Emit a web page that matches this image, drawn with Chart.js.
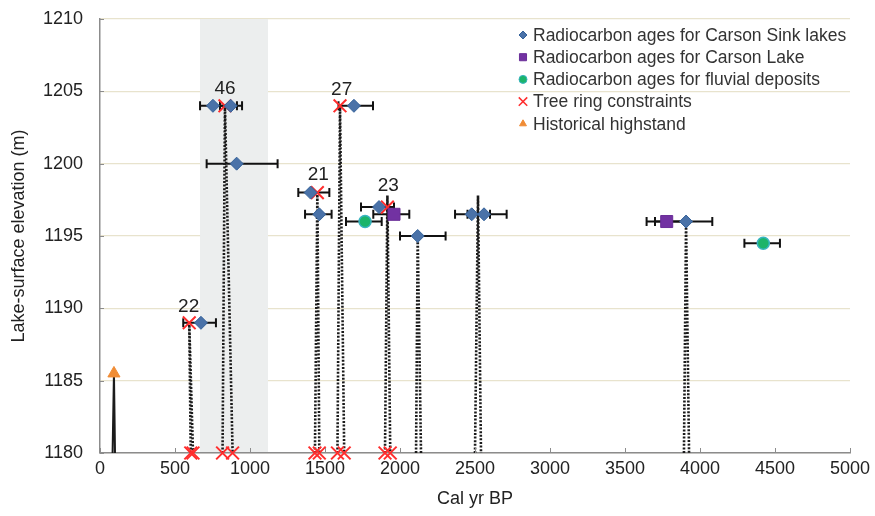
<!DOCTYPE html>
<html>
<head>
<meta charset="utf-8">
<script src="https://cdn.jsdelivr.net/npm/chart.js@4.4.1/dist/chart.umd.min.js"></script>
<style>
  html, body { margin: 0; padding: 0; background: #fff; }
  #wrap { width: 875px; height: 516px; }
</style>
</head>
<body>
<div id="wrap"><canvas id="chart" width="875" height="516"></canvas></div>
<script>
// Radiocarbon ages for Carson Sink lakes (age, elevation, 2-sigma range)
const sinkAge   = [753, 871, 911, 1693, 1404, 1462, 1860, 2118, 2478, 2560, 3907, 673];
const sinkElev  = [1204, 1204, 1200, 1204, 1198, 1196.5, 1197, 1195, 1196.5, 1196.5, 1196, 1189];
const sinkErrLo = [667, 800, 711, 1590, 1322, 1367, 1740, 2000, 2367, 2450, 3700, 555];
const sinkErrHi = [913, 947, 1184, 1820, 1529, 1544, 1960, 2304, 2600, 2711, 4082, 773];

// Radiocarbon ages for Carson Lake
const lakeAge   = [1960, 3778];
const lakeElev  = [1196.5, 1196];
const lakeErrLo = [1822, 3644];
const lakeErrHi = [2062, 3910];

// Radiocarbon ages for fluvial deposits
const fluvAge   = [1767, 4422];
const fluvElev  = [1196, 1194.5];
const fluvErrLo = [1640, 4296];
const fluvErrHi = [1878, 4533];

// Tree ring constraints
const treeAge  = [595, 833, 1449, 1600, 1916, 605, 620, 817, 884, 1433, 1462, 1583, 1628, 1900, 1935];
const treeElev = [1189, 1204, 1198, 1204, 1197, 1180, 1180, 1180, 1180, 1180, 1180, 1180, 1180, 1180, 1180];

// Historical highstand
const histAge  = [93];
const histElev = [1185.5];
const histBaseLo = [84];
const histBaseHi = [100];

// Dotted lake-level constraint lines (apex and the two base ages at 1180 m)
const lineTopAge  = [595, 833, 1449, 1600, 1916, 2118, 2520, 3907];
const lineTopElev = [1189, 1204, 1198, 1204, 1197.8, 1195, 1197.8, 1196];
const lineBaseLo  = [605, 817, 1433, 1583, 1900, 2107, 2500, 3893];
const lineBaseHi  = [620, 884, 1462, 1628, 1935, 2140, 2540, 3927];

// Numbered labels
const eventLabel     = ['22', '46', '21', '27', '23'];
const eventLabelAge  = [591, 833, 1455, 1611, 1922];
const eventLabelElev = [1190.1, 1205.2, 1199.2, 1205.1, 1198.5];

// Shaded interval
const shadeFrom = 667;
const shadeTo = 1120;

// Axis ranges
const yMin = 1180, yMax = 1210, yStep = 5;
const xMin = 0, xMax = 5000, xStep = 500;

const FONT = "'Liberation Sans', Arial, sans-serif";

function pts(xs, ys) {
    return xs.map((x, i) => ({ x: x, y: ys[i] }));
}

const datasets = [];

// constraint lines
lineTopAge.forEach((top, i) => {
    datasets.push({
        type: 'line',
        data: [{ x: lineBaseLo[i], y: yMin }, { x: top, y: lineTopElev[i] }, { x: lineBaseHi[i], y: yMin }],
        borderColor: '#1a1a1a',
        borderWidth: 2.6,
        borderDash: [2, 1.6],
        pointRadius: 0,
        fill: false,
        tension: 0,
        order: 10
    });
});
histAge.forEach((a, i) => {
    datasets.push({
        type: 'line',
        data: [{ x: histBaseLo[i], y: yMin }, { x: a, y: histElev[i] }, { x: histBaseHi[i], y: yMin }],
        borderColor: '#1b1b1b',
        borderWidth: 2,
        pointRadius: 0,
        fill: false,
        tension: 0,
        order: 10
    });
});

const markerSets = [
    { label: 'Radiocarbon ages for Carson Sink lakes', data: pts(sinkAge, sinkElev),
      pointStyle: 'rectRot', pointRadius: 6.5, backgroundColor: '#4a72a8', borderColor: '#35629a', borderWidth: 1 },
    { label: 'Radiocarbon ages for Carson Lake', data: pts(lakeAge, lakeElev),
      pointStyle: 'rect', pointRadius: 8.5, backgroundColor: '#7232a2', borderColor: '#6a2e98', borderWidth: 1 },
    { label: 'Radiocarbon ages for fluvial deposits', data: pts(fluvAge, fluvElev),
      pointStyle: 'circle', pointRadius: 6, backgroundColor: '#1cb46a', borderColor: '#38b4c0', borderWidth: 1.5 },
    { label: 'Tree ring constraints', data: pts(treeAge, treeElev),
      pointStyle: 'crossRot', pointRadius: 9, backgroundColor: '#ff2d2d', borderColor: '#ff2d2d', borderWidth: 2 },
    { label: 'Historical highstand', data: pts(histAge, histElev),
      pointStyle: 'triangle', pointRadius: 7, backgroundColor: '#f08c35', borderColor: '#f08c35', borderWidth: 1 }
];
markerSets.forEach(m => {
    m.type = 'scatter';
    m.order = 1;
    m.clip = false;
    m.isMarker = true;
    datasets.push(m);
});

const errorGroups = [
    { age: sinkAge, elev: sinkElev, lo: sinkErrLo, hi: sinkErrHi },
    { age: lakeAge, elev: lakeElev, lo: lakeErrLo, hi: lakeErrHi },
    { age: fluvAge, elev: fluvElev, lo: fluvErrLo, hi: fluvErrHi }
];

// shaded band + error bars under the markers
const underlayPlugin = {
    id: 'underlay',
    beforeDatasetsDraw(chart) {
        const { ctx, chartArea, scales } = chart;
        const x = scales.x, y = scales.y;
        ctx.save();
        ctx.fillStyle = '#eceeee';
        const x0 = x.getPixelForValue(shadeFrom), x1 = x.getPixelForValue(shadeTo);
        ctx.fillRect(x0, chartArea.top, x1 - x0, chartArea.bottom - chartArea.top - 1);

        ctx.strokeStyle = '#111';
        ctx.lineWidth = 2;
        errorGroups.forEach(g => {
            g.age.forEach((a, i) => {
                const py = y.getPixelForValue(g.elev[i]);
                const pl = x.getPixelForValue(g.lo[i]);
                const ph = x.getPixelForValue(g.hi[i]);
                ctx.beginPath();
                ctx.moveTo(pl, py); ctx.lineTo(ph, py);
                ctx.moveTo(pl, py - 4.5); ctx.lineTo(pl, py + 4.5);
                ctx.moveTo(ph, py - 4.5); ctx.lineTo(ph, py + 4.5);
                ctx.stroke();
            });
        });
        ctx.restore();
    }
};

// inward tick marks, numbered labels and the legend
const overlayPlugin = {
    id: 'overlay',
    afterDraw(chart) {
        const { ctx, chartArea, scales } = chart;
        const x = scales.x, y = scales.y;
        ctx.save();
        ctx.strokeStyle = '#8c8c8c';
        ctx.lineWidth = 1;
        ctx.beginPath();
        x.ticks.forEach(t => {
            const px = Math.round(x.getPixelForValue(t.value)) + 0.5;
            ctx.moveTo(px, chartArea.bottom);
            ctx.lineTo(px, chartArea.bottom - 5);
        });
        y.ticks.forEach(t => {
            const py = Math.round(y.getPixelForValue(t.value)) + 0.5;
            ctx.moveTo(chartArea.left, py);
            ctx.lineTo(chartArea.left + 4, py);
        });
        ctx.stroke();

        ctx.fillStyle = '#222';
        ctx.font = '19px ' + FONT;
        ctx.textAlign = 'center';
        ctx.textBaseline = 'middle';
        eventLabel.forEach((txt, i) => {
            ctx.fillText(txt, x.getPixelForValue(eventLabelAge[i]), y.getPixelForValue(eventLabelElev[i]));
        });

        // legend
        const lx = 523, ly = 35, rowH = 22.2;
        ctx.font = '17.5px ' + FONT;
        ctx.textAlign = 'left';
        chart.data.datasets.filter(d => d.isMarker).forEach((d, i) => {
            const cy = ly + i * rowH;
            ctx.fillStyle = d.backgroundColor;
            ctx.strokeStyle = d.borderColor;
            ctx.lineWidth = d.pointStyle === 'crossRot' ? 1.5 : 1;
            Chart.helpers.drawPoint(ctx, { pointStyle: d.pointStyle, radius: d.pointStyle === 'rect' ? 5 : (d.pointStyle === 'crossRot' ? 6 : 4), rotation: 0, borderWidth: ctx.lineWidth }, lx, cy);
            ctx.fillStyle = '#333';
            ctx.fillText(d.label, lx + 10, cy + 1);
        });
        ctx.restore();
    }
};

new Chart(document.getElementById('chart'), {
    type: 'scatter',
    data: { datasets: datasets },
    options: {
        responsive: false,
        animation: false,
        events: [],
        layout: { padding: { top: 19, right: 25, left: 0, bottom: 0 } },
        plugins: { legend: { display: false }, tooltip: { enabled: false } },
        scales: {
            x: {
                type: 'linear',
                min: xMin, max: xMax,
                ticks: { stepSize: xStep, color: '#222', font: { family: FONT, size: 18 }, padding: -3, maxRotation: 0,
                         callback: v => String(v) },
                grid: { display: false },
                border: { display: true, color: '#8c8c8c', width: 1.5 },
                title: { display: true, text: 'Cal yr BP', color: '#222', font: { family: FONT, size: 18 }, padding: { top: 0, bottom: 6 } },
                afterFit(scale) { scale.height = 63; }
            },
            y: {
                type: 'linear',
                min: yMin, max: yMax,
                ticks: { stepSize: yStep, color: '#222', font: { family: FONT, size: 18 }, padding: 17,
                         callback: v => String(v) },
                grid: { color: '#e8e3cd', lineWidth: 1.2, drawTicks: false },
                border: { display: true, color: '#8c8c8c', width: 1.5 },
                title: { display: true, text: 'Lake-surface elevation (m)', color: '#222', font: { family: FONT, size: 18 }, padding: { top: 8, bottom: 0 } },
                afterFit(scale) { scale.width = 100; scale.paddingTop = 0; }
            }
        }
    },
    plugins: [underlayPlugin, overlayPlugin]
});
</script>
</body>
</html>
